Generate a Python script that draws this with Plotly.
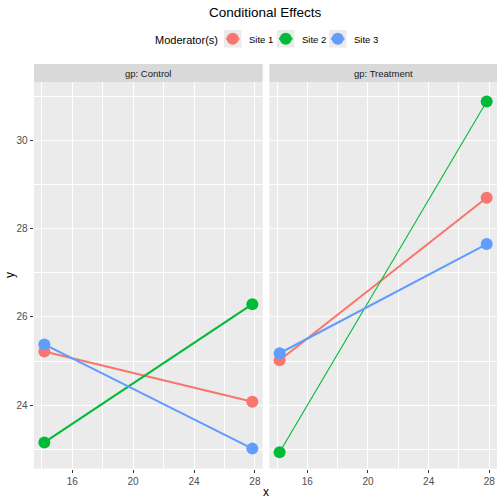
import plotly.graph_objects as go

# ---- data ----
x_vals = [14.17, 27.83]
groups = ["Control", "Treatment"]
sites = ["Site 1", "Site 2", "Site 3"]
control_site1 = [25.22, 24.08]
control_site2 = [23.16, 26.29]
control_site3 = [25.38, 23.02]
treatment_site1 = [25.02, 28.70]
treatment_site2 = [22.94, 30.88]
treatment_site3 = [25.18, 27.65]
x_ticks = [16, 20, 24, 28]
y_ticks = [24, 26, 28, 30]

values = {
    "Control": [control_site1, control_site2, control_site3],
    "Treatment": [treatment_site1, treatment_site2, treatment_site3],
}
colors = ["#F8766D", "#00BA38", "#619CFF"]
line_widths = {"Control": [2.1, 2.1, 2.1], "Treatment": [2.1, 1.1, 2.1]}

W = H = 504
FONT = "Liberation Sans, Arial, sans-serif"


def px(x):
    return x / W


def py(y):
    return 1 - y / H


fig = go.Figure()

axis_map = {"Control": ("x", "y"), "Treatment": ("x2", "y2")}
for g in groups:
    xa, ya = axis_map[g]
    for i, s in enumerate(sites):
        fig.add_trace(go.Scatter(
            x=x_vals, y=values[g][i], xaxis=xa, yaxis=ya,
            mode="lines", line=dict(color=colors[i], width=line_widths[g][i]),
            showlegend=False, hoverinfo="skip"))
    for i, s in enumerate(sites):
        fig.add_trace(go.Scatter(
            x=x_vals, y=values[g][i], xaxis=xa, yaxis=ya,
            mode="markers", marker=dict(color=colors[i], size=12, line=dict(width=0)),
            showlegend=False, name=s))

panel_top, panel_bot = 82, 468.5
x_range = [13.49, 28.51]
y_range = [22.57, 31.32]

common_x = dict(
    range=x_range, tickvals=x_ticks, ticktext=[str(t) for t in x_ticks],
    showgrid=True, gridcolor="white", gridwidth=1.1, zeroline=False,
    ticks="outside", ticklen=3.5, tickwidth=1.1, tickcolor="#333333",
    tickfont=dict(family=FONT, size=10, color="#4D4D4D"),
    minor=dict(tickvals=[14, 18, 22, 26], showgrid=True, gridcolor="white", gridwidth=0.55, ticks=""),
    showline=False,
)
common_y = dict(
    range=y_range, tickvals=y_ticks, ticktext=[str(t) for t in y_ticks],
    showgrid=True, gridcolor="white", gridwidth=1.1, zeroline=False,
    minor=dict(tickvals=[23, 25, 27, 29, 31], showgrid=True, gridcolor="white", gridwidth=0.55, ticks=""),
    showline=False, domain=[py(panel_bot), py(panel_top)],
)

fig.update_layout(
    width=W, height=H, margin=dict(l=0, r=0, t=0, b=0),
    paper_bgcolor="white", plot_bgcolor="#EBEBEB",
    font=dict(family=FONT, color="#000000"),
    xaxis=dict(common_x, domain=[px(34), px(262.7)], anchor="y"),
    xaxis2=dict(common_x, domain=[px(269.3), px(497)], anchor="y2"),
    yaxis=dict(common_y, anchor="x", ticks="outside", ticklen=3.5, tickwidth=1.1,
               tickcolor="#333333", tickfont=dict(family=FONT, size=10, color="#4D4D4D")),
    yaxis2=dict(common_y, anchor="x2", showticklabels=False, ticks="", matches="y"),
)

shapes = []
annotations = []
# strips
for (x0, x1), label in zip([(34, 262.7), (269.3, 497)], ["gp: Control", "gp: Treatment"]):
    shapes.append(dict(type="rect", xref="paper", yref="paper", x0=px(x0), x1=px(x1),
                       y0=py(82), y1=py(64), fillcolor="#D9D9D9", line=dict(width=0), layer="below"))
    annotations.append(dict(text=label, xref="paper", yref="paper", x=px((x0 + x1) / 2), y=py(73.5),
                            showarrow=False, xanchor="center", yanchor="middle",
                            font=dict(family=FONT, size=9.5, color="#1A1A1A")))

# title
annotations.append(dict(text="Conditional Effects", xref="paper", yref="paper", x=px(265.7), y=py(12.5),
                        showarrow=False, xanchor="center", yanchor="middle",
                        font=dict(family=FONT, size=13.5, color="#000000")))
# axis titles
annotations.append(dict(text="x", xref="paper", yref="paper", x=px(265.7), y=py(492),
                        showarrow=False, xanchor="center", yanchor="middle",
                        font=dict(family=FONT, size=12, color="#000000")))
annotations.append(dict(text="y", xref="paper", yref="paper", x=px(10), y=py(275),
                        showarrow=False, xanchor="center", yanchor="middle", textangle=-90,
                        font=dict(family=FONT, size=12, color="#000000")))

# legend (manual)
annotations.append(dict(text="Moderator(s)", xref="paper", yref="paper", x=px(219.5), y=py(40),
                        showarrow=False, xanchor="right", yanchor="middle",
                        font=dict(family=FONT, size=11, color="#000000")))
key_x = [224, 277, 329]
for i, s in enumerate(sites):
    kx = key_x[i]
    shapes.append(dict(type="rect", xref="paper", yref="paper", x0=px(kx), x1=px(kx + 17.5),
                       y0=py(47.5), y1=py(30), fillcolor="#EBEBEB", line=dict(width=0)))
    shapes.append(dict(type="line", xref="paper", yref="paper", x0=px(kx + 2), x1=px(kx + 15.5),
                       y0=py(38.75), y1=py(38.75), line=dict(color=colors[i], width=2.1)))
    cx, cy = kx + 8.75, 38.75
    shapes.append(dict(type="circle", xref="paper", yref="paper", x0=px(cx - 6), x1=px(cx + 6),
                       y0=py(cy + 6), y1=py(cy - 6), fillcolor=colors[i], line=dict(width=0)))
    annotations.append(dict(text=s, xref="paper", yref="paper", x=px(kx + 22.5), y=py(39.5),
                            showarrow=False, xanchor="left", yanchor="middle",
                            font=dict(family=FONT, size=9.5, color="#000000")))

fig.update_layout(shapes=shapes, annotations=annotations)
fig.write_html("out.html")
